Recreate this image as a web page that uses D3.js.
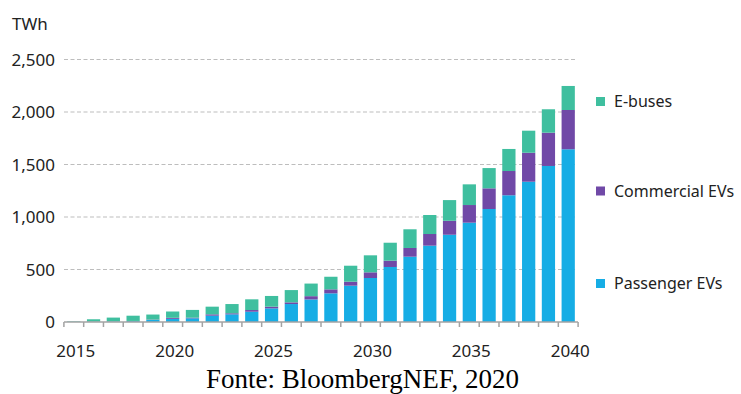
<!DOCTYPE html>
<html>
<head>
<meta charset="utf-8">
<script src="https://cdn.jsdelivr.net/npm/d3@7"></script>
<style>
  body { margin: 0; background: #fff; }
  svg { display: block; }
</style>
</head>
<body>
<svg width="741" height="394"></svg>
<script>
// datos (TWh)
var anos = ["2015","2016","2017","2018","2019","2020","2021","2022","2023","2024","2025","2026","2027",
            "2028","2029","2030","2031","2032","2033","2034","2035","2036","2037","2038","2039","2040"];
var passenger = [2, 3, 5, 8, 20, 30, 35, 60, 73, 98, 130, 171, 215,
                 273, 346, 419, 524, 622, 727, 831, 946, 1076, 1207, 1336, 1486, 1645];
var commercial = [0, 1, 1, 2, 3, 10, 6, 13, 10, 16, 16, 16, 31,
                  38, 38, 54, 60, 83, 111, 133, 168, 197, 231, 276, 317, 374];
var ebuses = [4, 22, 36, 50, 48, 60, 74, 73, 88, 102, 102, 117, 120,
              120, 152, 162, 171, 178, 181, 197, 197, 193, 210, 210, 223, 229];
var yTicks = [0, 500, 1000, 1500, 2000, 2500];
var xLabels = ["2015", "2020", "2025", "2030", "2035", "2040"];
var series = ["passenger", "commercial", "ebuses"];
var nombres = {passenger: "Passenger EVs", commercial: "Commercial EVs", ebuses: "E-buses"};
var colores = {passenger: "#16ade5", commercial: "#7049a7", ebuses: "#3fbf9f"};

var svg = d3.select("svg");
var fuente = "'Noto Sans', sans-serif";

var tabla = anos.map(function(a, i) {
  return {ano: a, passenger: passenger[i], commercial: commercial[i], ebuses: ebuses[i]};
});

var x = d3.scaleBand().domain(anos).range([64, 578]).paddingInner(0.33).paddingOuter(0.16);
var y = d3.scaleLinear().domain([0, 2500]).range([322, 59.5]);

// lineas de grilla punteadas
svg.append("g")
  .selectAll("line")
  .data(yTicks.slice(1))
  .enter().append("line")
  .attr("x1", 64).attr("x2", 577)
  .attr("y1", function(d) { return y(d); })
  .attr("y2", function(d) { return y(d); })
  .attr("stroke", "#bdbdbd")
  .attr("stroke-width", 1.2)
  .attr("stroke-dasharray", "4,2.5");

// etiquetas eje y
svg.append("g")
  .selectAll("text")
  .data(yTicks)
  .enter().append("text")
  .attr("x", 55)
  .attr("y", function(d) { return y(d); })
  .attr("dy", "0.36em")
  .attr("text-anchor", "end")
  .style("font", "17px " + fuente)
  .attr("fill", "#222")
  .text(function(d) { return d3.format(",")(d); });

svg.append("text")
  .attr("x", 12).attr("y", 30)
  .style("font", "17px " + fuente)
  .attr("fill", "#222")
  .text("TWh");

// barras apiladas
var pila = d3.stack().keys(series)(tabla);

svg.append("g")
  .selectAll("g")
  .data(pila)
  .enter().append("g")
  .attr("fill", function(d) { return colores[d.key]; })
  .selectAll("rect")
  .data(function(d) { return d; })
  .enter().append("rect")
  .attr("x", function(d) { return x(d.data.ano); })
  .attr("width", x.bandwidth())
  .attr("y", function(d) { return y(d[1]); })
  .attr("height", function(d) { return y(d[0]) - y(d[1]); });

// eje x con marcas entre barras
var ejeX = svg.append("g").attr("stroke", "#a3a3a3").attr("stroke-width", 1.5);
ejeX.append("line")
  .attr("x1", 64).attr("x2", 578)
  .attr("y1", 322).attr("y2", 322);
var bordes = anos.map(function(a) { return x(a) - x.step() * x.paddingInner() / 2; });
bordes.push(x(anos[anos.length - 1]) + x.bandwidth() + x.step() * x.paddingInner() / 2);
ejeX.selectAll(".tick")
  .data(bordes)
  .enter().append("line")
  .attr("class", "tick")
  .attr("x1", function(d) { return d; }).attr("x2", function(d) { return d; })
  .attr("y1", 322).attr("y2", 327);

svg.append("g")
  .selectAll("text")
  .data(xLabels)
  .enter().append("text")
  .attr("x", function(d) { return x(d) + x.bandwidth() / 2 + 2; })
  .attr("y", 357)
  .attr("text-anchor", "middle")
  .style("font", "17px " + fuente)
  .attr("fill", "#222")
  .text(function(d) { return d; });

// leyenda
var leyenda = [{k: "ebuses", y: 101.5}, {k: "commercial", y: 191}, {k: "passenger", y: 283.5}];
var ley = svg.append("g")
  .selectAll("g")
  .data(leyenda)
  .enter().append("g")
  .attr("transform", function(d) { return "translate(596," + d.y + ")"; });
ley.append("rect")
  .attr("x", 0).attr("y", -4.5)
  .attr("width", 9).attr("height", 9)
  .attr("fill", function(d) { return colores[d.k]; });
ley.append("text")
  .attr("x", 18)
  .attr("dy", "0.36em")
  .style("font", "16px " + fuente)
  .attr("fill", "#222")
  .text(function(d) { return nombres[d.k]; });

// fuente
svg.append("text")
  .attr("x", 362.5).attr("y", 388)
  .attr("text-anchor", "middle")
  .style("font", "27px 'Liberation Serif', 'Times New Roman', serif")
  .attr("fill", "#000")
  .text("Fonte: BloombergNEF, 2020");
</script>
</body>
</html>
